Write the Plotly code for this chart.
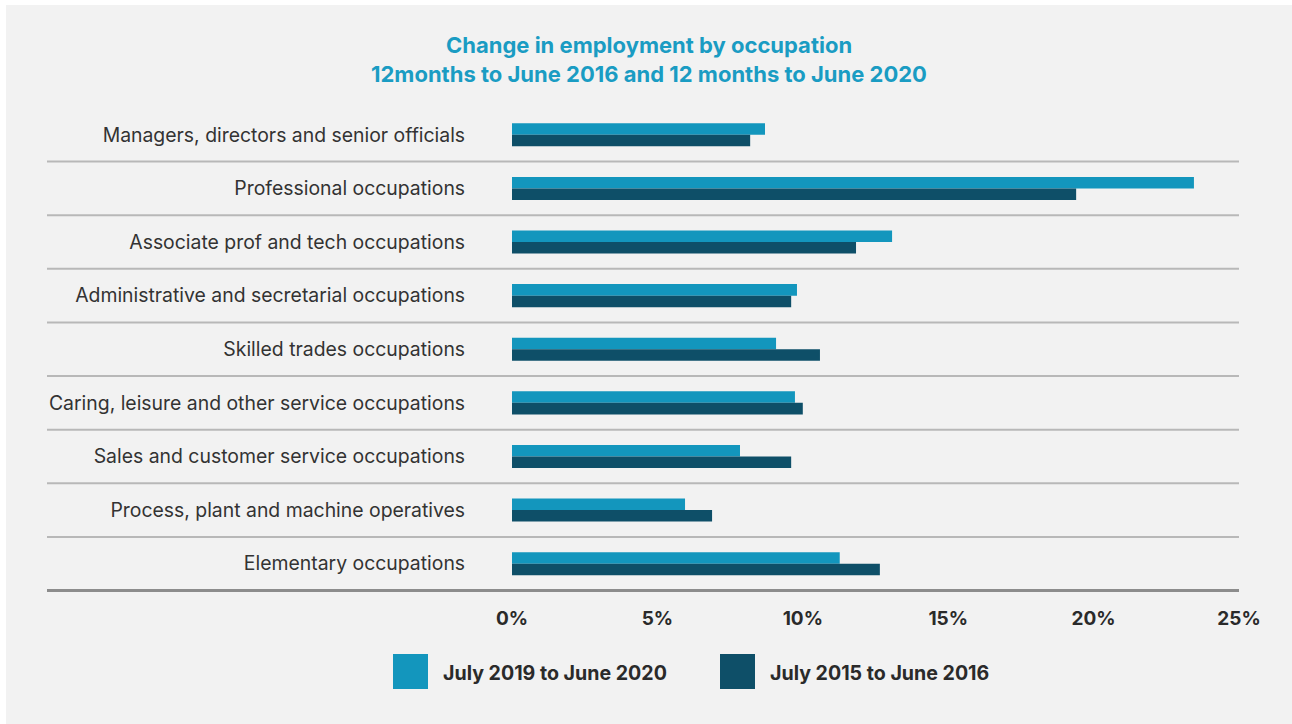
import plotly.graph_objects as go

categories = [
    "Managers, directors and senior officials",
    "Professional occupations",
    "Associate prof and tech occupations",
    "Administrative and secretarial occupations",
    "Skilled trades occupations",
    "Caring, leisure and other service occupations",
    "Sales and customer service occupations",
    "Process, plant and machine operatives",
    "Elementary occupations",
]
series_2020_name = "July 2019 to June 2020"
series_2016_name = "July 2015 to June 2016"
values_2020 = [8.7, 23.45, 13.07, 9.8, 9.08, 9.73, 7.84, 5.95, 11.27]
values_2016 = [8.19, 19.4, 11.83, 9.6, 10.59, 10.0, 9.6, 6.88, 12.65]
tick_values = [0, 5, 10, 15, 20, 25]
tick_labels = ["0%", "5%", "10%", "15%", "20%", "25%"]
title_line1 = "Change in employment by occupation"
title_line2 = "12months to June 2016 and 12 months to June 2020"

LIGHT = "#1396bd"
DARK = "#0e4f68"
BG = "#f2f2f2"
FONT = "Inter"

W, H = 1292, 724
L, R, T, B = 512, 1239, 108, 592
pw, ph = R - L, B - T


def px_x(x):
    return (x - L) / pw


def px_y(y):
    return (B - y) / ph


fig = go.Figure()
fig.add_trace(go.Bar(y=categories, x=values_2020, orientation="h", name=series_2020_name,
                     marker=dict(color=LIGHT, line=dict(width=0)), showlegend=False))
fig.add_trace(go.Bar(y=categories, x=values_2016, orientation="h", name=series_2016_name,
                     marker=dict(color=DARK, line=dict(width=0)), showlegend=False))

shapes = []
# white outer strips
shapes.append(dict(type="rect", xref="paper", yref="paper", x0=px_x(-5), x1=px_x(W + 5),
                   y0=px_y(5), y1=px_y(-5), fillcolor="white", line=dict(width=0), layer="above"))
shapes.append(dict(type="rect", xref="paper", yref="paper", x0=px_x(-5), x1=px_x(6),
                   y0=px_y(H + 5), y1=px_y(-5), fillcolor="white", line=dict(width=0), layer="above"))
# separators
for i in range(len(categories) - 1):
    shapes.append(dict(type="line", xref="paper", yref="y", x0=px_x(47), x1=1,
                       y0=i + 0.5, y1=i + 0.5, line=dict(color="#b8b8b8", width=2), layer="below"))
shapes.append(dict(type="line", xref="paper", yref="y", x0=px_x(47), x1=1,
                   y0=len(categories) - 0.5, y1=len(categories) - 0.5,
                   line=dict(color="#8c8c8c", width=3), layer="above"))
# legend squares
shapes.append(dict(type="rect", xref="paper", yref="paper", x0=px_x(393), x1=px_x(428),
                   y0=px_y(689), y1=px_y(654), fillcolor=LIGHT, line=dict(width=0)))
shapes.append(dict(type="rect", xref="paper", yref="paper", x0=px_x(720), x1=px_x(755),
                   y0=px_y(689), y1=px_y(654), fillcolor=DARK, line=dict(width=0)))

annotations = [
    dict(text="<b>" + title_line1 + "</b>", xref="paper", yref="paper", x=px_x(649), y=px_y(45),
         showarrow=False, xanchor="center", yanchor="middle", font=dict(family=FONT, size=22, color="#1a9cc3")),
    dict(text="<b>" + title_line2 + "</b>", xref="paper", yref="paper", x=px_x(649), y=px_y(74),
         showarrow=False, xanchor="center", yanchor="middle", font=dict(family=FONT, size=22, color="#1a9cc3")),
    dict(text="<b>" + series_2020_name + "</b>", xref="paper", yref="paper", x=px_x(441), y=px_y(673),
         showarrow=False, xanchor="left", yanchor="middle", font=dict(family=FONT, size=19.6, color="#2a2a2a")),
    dict(text="<b>" + series_2016_name + "</b>", xref="paper", yref="paper", x=px_x(768), y=px_y(673),
         showarrow=False, xanchor="left", yanchor="middle", font=dict(family=FONT, size=19.6, color="#2a2a2a")),
]

fig.update_layout(
    width=W, height=H,
    margin=dict(l=L, r=W - R, t=T, b=H - B, pad=0),
    paper_bgcolor=BG, plot_bgcolor="rgba(0,0,0,0)",
    barmode="group", bargap=0.57, bargroupgap=0,
    shapes=shapes, annotations=annotations,
    showlegend=False,
    font=dict(family=FONT),
)
fig.update_xaxes(range=[0, 25], tickvals=tick_values, ticktext=["<b>" + t + "</b>" for t in tick_labels],
                 showgrid=False, zeroline=False, showline=False,
                 ticks="outside", ticklen=9, tickcolor="rgba(0,0,0,0)",
                 tickfont=dict(family=FONT, size=19, color="#2a2a2a"), fixedrange=True)
fig.update_yaxes(autorange="reversed", showgrid=False, zeroline=False, showline=False,
                 ticks="outside", ticklen=42, tickcolor="rgba(0,0,0,0)",
                 tickfont=dict(family=FONT, size=19.4, color="#333333"), fixedrange=True)

fig.write_html("out.html", config={"displayModeBar": False},
               post_script="document.body.style.margin='0';document.body.style.overflow='hidden';")
